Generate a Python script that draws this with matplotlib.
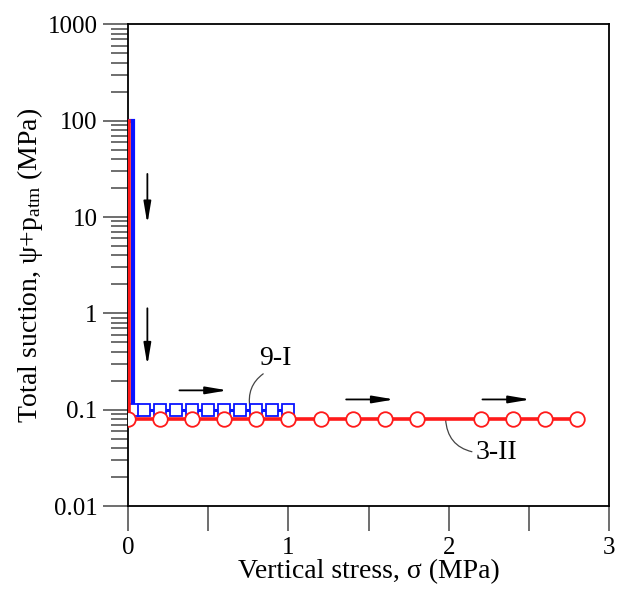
import matplotlib.pyplot as plt
from matplotlib.ticker import FixedLocator, NullFormatter, LogLocator

plt.rcParams['font.family'] = 'Liberation Serif'
plt.rcParams['mathtext.fontset'] = 'custom'
plt.rcParams['mathtext.rm'] = 'Liberation Serif'
plt.rcParams['mathtext.it'] = 'Liberation Serif:italic'

# path 9-I (blue squares): suction drop at ~0 stress, then loading
s9_path_x = [0.01, 0.03, 0.03]
s9_path_y = [100, 100, 0.1]
s9_x = [0.03, 0.1, 0.2, 0.3, 0.4, 0.5, 0.6, 0.7, 0.8, 0.9, 1.0]
s9_y = [0.1] * len(s9_x)

# path 3-II (red circles)
s3_path_x = [0.006, 0.006]
s3_path_y = [100, 0.08]
s3_x = [0.0, 0.2, 0.4, 0.6, 0.8, 1.0, 1.2, 1.4, 1.6, 1.8, 2.2, 2.4, 2.6, 2.8]
s3_y = [0.08] * len(s3_x)

# direction arrows (x0, y0, x1, y1)
arrows = [
    (0.12, 28.0, 0.12, 8.5),
    (0.12, 1.13, 0.12, 0.29),
    (0.32, 0.159, 0.62, 0.159),
    (1.36, 0.128, 1.66, 0.128),
    (2.21, 0.128, 2.51, 0.128),
]

fig = plt.figure(figsize=(6.19, 5.92), dpi=100)
ax = fig.add_axes([0.207, 0.145, 0.777, 0.814])

red = '#ff1a1a'
blue = '#0a14ff'

ax.plot(s9_path_x, s9_path_y, color=blue, lw=3.0, solid_joinstyle='miter', zorder=3)
ax.plot(s9_x, s9_y, color=blue, lw=2.2, marker='s', ms=8.5, mfc='white',
        mec=blue, mew=1.3, zorder=4)
ax.plot(s3_path_x, s3_path_y, color=red, lw=2.6, zorder=5)
ax.plot(s3_x, s3_y, color=red, lw=2.6, marker='o', ms=10.5, mfc='white',
        mec=red, mew=1.3, zorder=6)

for x0, y0, x1, y1 in arrows:
    ax.annotate('', xy=(x1, y1), xytext=(x0, y0),
                arrowprops=dict(arrowstyle='-|>,head_length=1.3,head_width=0.22',
                                color='black', lw=1.3, shrinkA=0, shrinkB=0))

ax.annotate('9-I', xy=(0.76, 0.104), xytext=(0.92, 0.34), fontsize=20,
            ha='center', va='center',
            arrowprops=dict(arrowstyle='-', color='#444444', lw=0.9,
                            connectionstyle='arc3,rad=0.35', relpos=(0.25, 0.0),
                            shrinkA=0, shrinkB=0))
ax.annotate('3-II', xy=(1.98, 0.08), xytext=(2.30, 0.036), fontsize=20,
            ha='center', va='center',
            arrowprops=dict(arrowstyle='-', color='#444444', lw=0.9,
                            connectionstyle='arc3,rad=-0.4', relpos=(0.0, 0.5),
                            shrinkA=1, shrinkB=0))

ax.set_yscale('log')
ax.set_xlim(0, 3)
ax.set_ylim(0.01, 1000)
ax.set_xticks([0, 1, 2, 3])
ax.xaxis.set_minor_locator(FixedLocator([0.5, 1.5, 2.5]))
ax.set_yticks([0.01, 0.1, 1, 10, 100, 1000])
ax.set_yticklabels(['0.01', '0.1', '1', '10', '100', '1000'])
ax.yaxis.set_minor_locator(LogLocator(base=10, subs=range(2, 10), numticks=20))
ax.yaxis.set_minor_formatter(NullFormatter())

ax.tick_params(axis='both', which='major', direction='out', length=18, width=1.2,
               color='#555555', labelsize=18, pad=4)
ax.tick_params(axis='x', which='minor', direction='out', length=18, width=1.2,
               color='#555555')
ax.tick_params(axis='y', which='minor', direction='out', length=12, width=1.2,
               color='#555555')
for sp in ax.spines.values():
    sp.set_linewidth(1.3)

ax.set_xlabel('Vertical stress, σ (MPa)', fontsize=20, labelpad=0)
ax.set_ylabel('Total suction, ψ+p$_{\\rm atm}$ (MPa)', fontsize=20, labelpad=2)

fig.savefig('out.png', dpi=100)
